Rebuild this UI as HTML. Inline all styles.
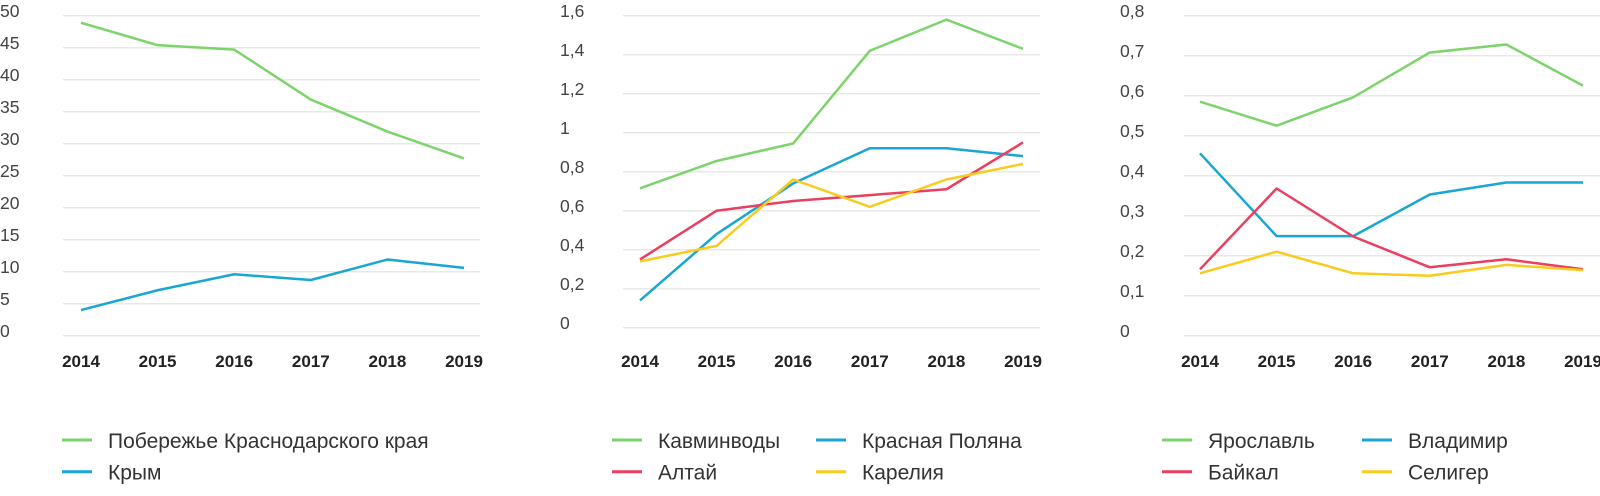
<!DOCTYPE html>
<html><head><meta charset="utf-8">
<style>
html,body{margin:0;padding:0;background:#fff;}
svg{display:block;font-family:"Liberation Sans",sans-serif;}
.tick{font-size:17.5px;fill:#444;}
.year{font-size:17px;font-weight:bold;fill:#222;}
.leg{font-size:21px;fill:#333;}
.grid{stroke:#e8e8e8;stroke-width:1.5;}
.ser{fill:none;stroke-width:2.5;stroke-linejoin:round;}
</style></head>
<body>
<svg id="chart" width="1600" height="496" viewBox="0 0 1600 496"></svg>
<script>
const years = ["2014","2015","2016","2017","2018","2019"];
const ticks1 = ["0","5","10","15","20","25","30","35","40","45","50"];
const ticks2 = ["0","0,2","0,4","0,6","0,8","1","1,2","1,4","1,6"];
const ticks3 = ["0","0,1","0,2","0,3","0,4","0,5","0,6","0,7","0,8"];
const krasnodar = [48.9,45.4,44.7,36.9,31.9,27.7];
const krym = [4.0,7.1,9.6,8.7,11.9,10.6];
const kavminvody = [0.715,0.855,0.945,1.42,1.58,1.43];
const krasnayaPolyana = [0.14,0.48,0.74,0.92,0.92,0.88];
const altai = [0.35,0.60,0.65,0.68,0.71,0.95];
const karelia = [0.34,0.42,0.76,0.62,0.76,0.84];
const yaroslavl = [0.585,0.525,0.596,0.708,0.728,0.625];
const vladimir = [0.456,0.249,0.249,0.353,0.383,0.383];
const baikal = [0.166,0.368,0.248,0.171,0.191,0.166];
const seliger = [0.156,0.21,0.156,0.15,0.177,0.164];

const GREEN="#7dd36c",BLUE="#1aa6d3",RED="#ea3f5f",YELLOW="#f8cb1c";
const NS="http://www.w3.org/2000/svg";
const svg=document.getElementById('chart');
function el(tag,attrs,parent){const e=document.createElementNS(NS,tag);for(const k in attrs)e.setAttribute(k,attrs[k]);(parent||svg).appendChild(e);return e;}

const panels=[
 {name:"coast-chart",ticks:ticks1,max:50,labelX:0,gx0:63,gx1:480,top:15.7,bottom:335.7,x0:81,dx:76.6,
  series:[{n:"krasnodar",d:krasnodar,c:GREEN},{n:"krym",d:krym,c:BLUE}],
  legend:[{t:"Побережье Краснодарского края",c:GREEN,x:62,y:440},{t:"Крым",c:BLUE,x:62,y:471.7}]},
 {name:"mountain-chart",ticks:ticks2,max:1.6,labelX:560,gx0:623,gx1:1040,top:15.7,bottom:327.7,x0:640,dx:76.6,
  series:[{n:"kavminvody",d:kavminvody,c:GREEN},{n:"krasnaya-polyana",d:krasnayaPolyana,c:BLUE},{n:"altai",d:altai,c:RED},{n:"karelia",d:karelia,c:YELLOW}],
  legend:[{t:"Кавминводы",c:GREEN,x:612,y:440},{t:"Алтай",c:RED,x:612,y:471.7},{t:"Красная Поляна",c:BLUE,x:816,y:440},{t:"Карелия",c:YELLOW,x:816,y:471.7}]},
 {name:"region-chart",ticks:ticks3,max:0.8,labelX:1120,gx0:1184,gx1:1600,top:15.7,bottom:335.7,x0:1200,dx:76.6,
  series:[{n:"yaroslavl",d:yaroslavl,c:GREEN},{n:"vladimir",d:vladimir,c:BLUE},{n:"baikal",d:baikal,c:RED},{n:"seliger",d:seliger,c:YELLOW}],
  legend:[{t:"Ярославль",c:GREEN,x:1162,y:440},{t:"Байкал",c:RED,x:1162,y:471.7},{t:"Владимир",c:BLUE,x:1362,y:440},{t:"Селигер",c:YELLOW,x:1362,y:471.7}]}
];

panels.forEach(p=>{
  const g=el('g',{});
  
  
  const ys=v=>p.bottom-(v/p.max)*(p.bottom-p.top);
  const xs=i=>p.x0+i*p.dx;
  const n=p.ticks.length-1;
  p.ticks.forEach((t,i)=>{
    const v=p.max*i/n, y=ys(v);
    const ln=el('line',{x1:p.gx0,x2:p.gx1,y1:y,y2:y,class:'grid'},g);
    
    
    const tx=el('text',{x:p.labelX,y:y+1.5,class:'tick'},g);
    tx.textContent=t;
    
    
  });
  years.forEach((yr,i)=>{
    const tx=el('text',{x:xs(i),y:367,'text-anchor':'middle',class:'year'},g);
    tx.textContent=yr;
    
    
  });
  p.series.forEach(s=>{
    const pts=s.d.map((v,i)=>xs(i)+','+ys(v)).join(' ');
    const pl=el('polyline',{points:pts,class:'ser',stroke:s.c},g);
    
    
  });
  p.legend.forEach(l=>{
    const lg=el('g',{},g);
    
    
    el('line',{x1:l.x,x2:l.x+30,y1:l.y,y2:l.y,stroke:l.c,'stroke-width':3},lg);
    const tx=el('text',{x:l.x+46,y:l.y+8,class:'leg'},lg);
    tx.textContent=l.t;
  });
});
</script>
</body></html>
